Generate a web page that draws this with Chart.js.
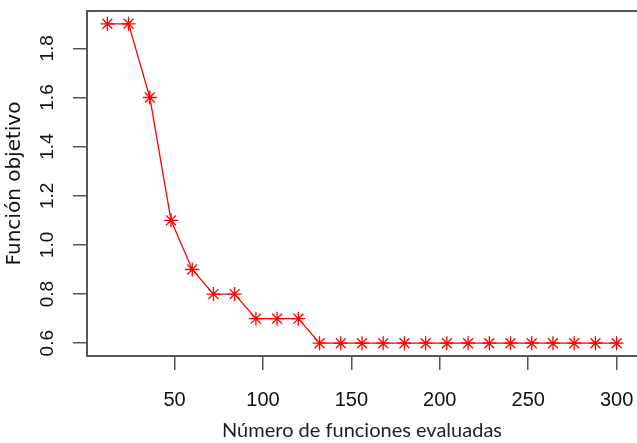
<!DOCTYPE html>
<html>
<head>
<meta charset="utf-8">
<script src="https://cdn.jsdelivr.net/npm/chart.js@4/dist/chart.umd.min.js"></script>
<style>
  html, body { margin: 0; padding: 0; background: #fff; }
  #wrap { width: 637px; height: 443px; }
</style>
</head>
<body>
<div id="wrap"><canvas id="chart" width="637" height="443"></canvas></div>
<script>
// evaluations vs objective value
var evaluaciones = [12, 24, 36, 48, 60, 72, 84, 96, 108, 120, 132, 144, 156, 168, 180,
                    192, 204, 216, 228, 240, 252, 264, 276, 288, 300];
var objetivo = [1.9, 1.9, 1.6, 1.1, 0.9, 0.8, 0.8, 0.7, 0.7, 0.7, 0.6, 0.6, 0.6, 0.6, 0.6,
                0.6, 0.6, 0.6, 0.6, 0.6, 0.6, 0.6, 0.6, 0.6, 0.6];
var xTicks = [50, 100, 150, 200, 250, 300];
var yTicks = [0.6, 0.8, 1.0, 1.2, 1.4, 1.6, 1.8];

var axisColor = '#555';

var points = evaluaciones.map(function(x, i) {
  return { x: x, y: objetivo[i] };
});

// no extra room for tick labels, the layout is fixed by hand
function noPadding(scale) {
  scale.paddingTop = 0;
  scale.paddingBottom = 0;
  scale.paddingLeft = 0;
  scale.paddingRight = 0;
}

new Chart(document.getElementById('chart'), {
  type: 'line',
  data: {
    datasets: [{
      data: points,
      borderColor: '#ff0000',
      borderWidth: 1.3,
      pointStyle: 'star',
      pointRadius: 7,
      pointBorderColor: '#ff0000',
      pointBorderWidth: 1.3,
      pointBackgroundColor: '#ff0000',
      tension: 0
    }]
  },
  options: {
    responsive: false,
    animation: false,
    layout: { autoPadding: false, padding: { top: 11, right: -3, left: 0, bottom: 0 } },
    plugins: { legend: { display: false }, tooltip: { enabled: false } },
    scales: {
      x: {
        type: 'linear',
        min: 0.48,
        max: 311.52,
        afterBuildTicks: function(scale) {
          scale.ticks = xTicks.map(function(v) { return { value: v }; });
        },
        afterFit: function(scale) { scale.height = 87; noPadding(scale); },
        grid: { drawOnChartArea: false, drawTicks: true, tickLength: 14, color: axisColor, lineWidth: 1.5 },
        border: { display: true, color: axisColor, width: 2 },
        ticks: {
          color: '#111',
          padding: 18,
          maxRotation: 0,
          font: { family: '"Liberation Sans", Arial, sans-serif', size: 20 },
          callback: function(v) { return String(v); }
        },
        title: {
          display: true,
          text: 'Número de funciones evaluadas',
          color: '#222',
          padding: { top: 0, bottom: 0 },
          font: { family: 'Lato, sans-serif', size: 20 }
        }
      },
      x2: {
        type: 'linear',
        position: 'top',
        min: 0.48,
        max: 311.52,
        afterFit: function(scale) { scale.height = 0; noPadding(scale); },
        grid: { display: false },
        border: { display: true, color: axisColor, width: 2 },
        ticks: { display: false }
      },
      y: {
        type: 'linear',
        min: 0.548,
        max: 1.952,
        afterBuildTicks: function(scale) {
          scale.ticks = yTicks.map(function(v) { return { value: v }; });
        },
        afterFit: function(scale) { scale.width = 87; noPadding(scale); },
        grid: { drawOnChartArea: false, drawTicks: true, tickLength: 14, color: axisColor, lineWidth: 1.5 },
        border: { display: true, color: axisColor, width: 2 },
        ticks: {
          color: '#111',
          padding: 12,
          minRotation: 90,
          maxRotation: 90,
          crossAlign: 'center',
          font: { family: '"Liberation Sans", Arial, sans-serif', size: 19 },
          callback: function(v) { return v.toFixed(1); }
        },
        title: {
          display: true,
          text: 'Función objetivo',
          color: '#111',
          padding: { top: 3, bottom: 0 },
          font: { family: '"DejaVu Sans", sans-serif', size: 20 }
        }
      }
    }
  }
});
</script>
</body>
</html>
